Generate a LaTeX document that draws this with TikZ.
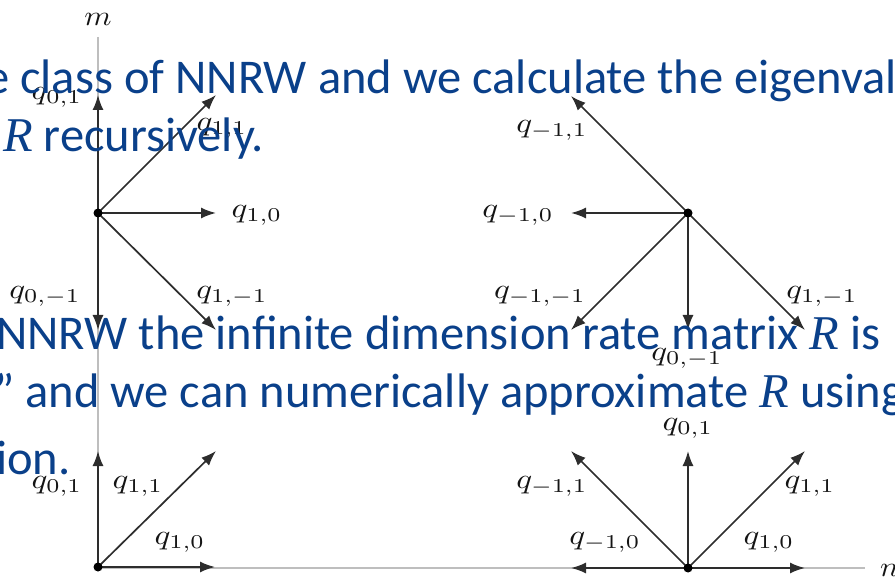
\documentclass[tikz,border=0pt]{standalone}
\usepackage{fontspec}
\newfontfamily\slidefont{Carlito}
\newfontfamily\mathitfont{Liberation Serif}
\usetikzlibrary{arrows.meta}
\definecolor{slideblue}{RGB}{10,64,138}
\definecolor{arrowgray}{RGB}{45,45,45}
\definecolor{axisgray}{RGB}{190,190,190}
\definecolor{labelgray}{RGB}{20,20,20}
\newcommand\qlab[1]{\scalebox{3.3}[2.8]{$q_{#1}$}}
\newcommand\axlab[1]{\scalebox{3.1}[2.8]{$#1$}}
\newcommand\Rit{{\mathitfont\itshape R}}
\begin{document}
\begin{tikzpicture}[x=1pt,y=-1pt,
  vec/.style={draw=arrowgray, line width=1.7pt, -{Latex[length=15pt,width=11pt]}},
  axisline/.style={draw=axisgray, line width=1.7pt},
  vdot/.style={circle, fill=black, inner sep=0pt, minimum size=9pt},
  qnode/.style={inner sep=0pt, text=labelgray, font=\fontsize{10}{12}\selectfont},
  slidetext/.style={anchor=base west, inner sep=0pt, text=slideblue, font=\slidefont\fontsize{48.5}{51}\selectfont}]
\useasboundingbox (0,0) rectangle (895,577);
% axes
\coordinate (mtop) at (98,37);
\coordinate (origin) at (98,568);
\coordinate (nend) at (865,568);
\draw[axisline] (mtop) -- (origin) -- (nend);
\node[qnode] (mlab) at (98,19) {\axlab{m}};
\node[qnode, anchor=west] (nlab) at (880,570) {\axlab{n}};
% star A
\coordinate (A) at (98,213);
\coordinate (Aup) at (98,95);
\coordinate (Aur) at (216,95);
\coordinate (Ar) at (216,213);
\coordinate (Ad) at (98,330);
\coordinate (Adr) at (216,330);
\foreach \t in {Aup,Aur,Ar,Ad,Adr} \draw[vec] (A) -- (\t);
\node[vdot] (Adot) at (A) {};
\node[qnode] (A01) at (57,97) {\qlab{0,1}};
\node[qnode] (A11) at (222,128) {\qlab{1,1}};
\node[qnode] (A10) at (257,215) {\qlab{1,0}};
\node[qnode] (A0m) at (45,296) {\qlab{0,-1}};
\node[qnode] (A1m) at (232,296) {\qlab{1,-1}};
% star B
\coordinate (B) at (688,213);
\coordinate (Bul) at (571,96);
\coordinate (Bl) at (571,213);
\coordinate (Bdl) at (571,330);
\coordinate (Bd) at (688,330);
\coordinate (Bdr) at (805,330);
\foreach \t in {Bul,Bl,Bdl,Bd,Bdr} \draw[vec] (B) -- (\t);
\node[vdot] (Bdot) at (B) {};
\node[qnode] (Bm11) at (552,130) {\qlab{-1,1}};
\node[qnode] (Bm10) at (518,215) {\qlab{-1,0}};
\node[qnode] (Bmm) at (540,296) {\qlab{-1,-1}};
\node[qnode] (B0m) at (687,358) {\qlab{0,-1}};
\node[qnode] (B1m) at (822,296) {\qlab{1,-1}};
% star C
\coordinate (C) at (98,567);
\coordinate (Cup) at (98,451);
\coordinate (Cur) at (216,451);
\coordinate (Cr) at (215,567);
\foreach \t in {Cup,Cur,Cr} \draw[vec] (C) -- (\t);
\node[vdot] (Cdot) at (C) {};
\node[qnode] (C01) at (57,486) {\qlab{0,1}};
\node[qnode] (C11) at (138,486) {\qlab{1,1}};
\node[qnode] (C10) at (180,542) {\qlab{1,0}};
% star D
\coordinate (D) at (688,568);
\coordinate (Dup) at (688,451);
\coordinate (Dul) at (571,451);
\coordinate (Dur) at (805,451);
\coordinate (Dl) at (571,568);
\coordinate (Dr) at (805,568);
\foreach \t in {Dup,Dul,Dur,Dl,Dr} \draw[vec] (D) -- (\t);
\node[vdot] (Ddot) at (D) {};
\node[qnode] (D01) at (688,428) {\qlab{0,1}};
\node[qnode] (Dm11) at (552,486) {\qlab{-1,1}};
\node[qnode] (D11) at (810,486) {\qlab{1,1}};
\node[qnode] (Dm10) at (605,542) {\qlab{-1,0}};
\node[qnode] (D10) at (769,542) {\qlab{1,0}};
% slide text on top
\node[slidetext] (t1) at (-15,94) {e class of NNRW and we calculate the eigenval};
\node[slidetext] (t2) at (3,152) {\Rit{} recursively.};
\node[slidetext] (t3) at (-4,350) {NNRW the infinite dimension rate matrix \Rit{} is};
\node[slidetext] (t4) at (-6,408) {” and we can numerically approximate \Rit{} using};
\node[slidetext] (t5) at (-4,475) {ion.};
\end{tikzpicture}
\end{document}
